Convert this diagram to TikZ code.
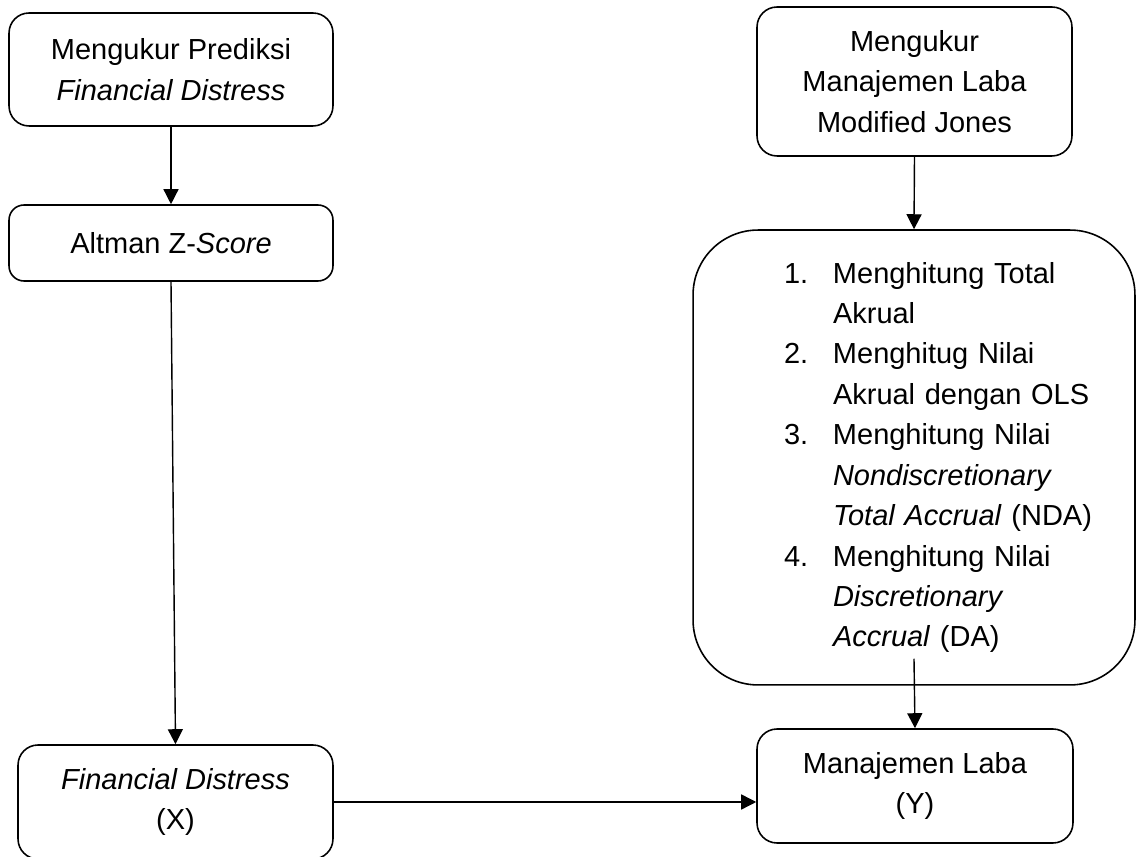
\documentclass[tikz,border=0pt]{standalone}
\usepackage{fontspec}
\setmainfont{Liberation Sans}
\usetikzlibrary{arrows.meta}

\newcommand{\stepnum}[1]{\hspace*{1.4cm}\makebox[0.98cm][l]{#1}}
\newcommand{\stepcont}{\hspace*{2.38cm}}

\begin{document}
\begin{tikzpicture}[x=0.02cm, y=-0.02cm,
  box/.style={draw, line width=0.9pt, rounded corners=0.4cm, align=center,
    font=\fontsize{16.5}{23}\selectfont},
  flow/.style={line width=0.8pt, -{Triangle[width=0.3cm,length=0.3cm]}}]
  \useasboundingbox (0,0) rectangle (1137,857);
  % left column
  \node[box, minimum width=6.48cm, minimum height=2.26cm] (predict) at (171,69.5)
    {Mengukur Prediksi\\\textit{Financial Distress}};
  \node[box, rounded corners=0.3cm, minimum width=6.48cm, minimum height=1.52cm] (altman) at (171,243)
    {Altman Z-\textit{Score}};
  \node[box, minimum width=6.3cm, minimum height=2.28cm] (distress) at (175.5,802)
    {\textit{Financial Distress}\\(X)};
  % right column
  \node[box, minimum width=6.3cm, minimum height=2.98cm] (jones) at (914.5,81.5)
    {Mengukur\\Manajemen Laba\\Modified Jones};
  \node[box, rounded corners=1.3cm, text width=8cm, align=left,
    minimum width=8.84cm, minimum height=9.1cm] (accrual) at (914,457.5)
    {\stepnum{1.}Menghitung Total\\
     \stepcont Akrual\\
     \stepnum{2.}Menghitug Nilai\\
     \stepcont Akrual dengan OLS\\
     \stepnum{3.}Menghitung Nilai\\
     \stepcont\textit{Nondiscretionary}\\
     \stepcont\textit{Total Accrual} (NDA)\\
     \stepnum{4.}Menghitung Nilai\\
     \stepcont\textit{Discretionary}\\
     \stepcont\textit{Accrual} (DA)};
  \node[box, minimum width=6.32cm, minimum height=2.28cm] (laba) at (915,786)
    {Manajemen Laba\\(Y)};
  % arrows
  \draw[flow] (predict.south) -- (altman.north);
  \draw[flow] (altman.south) -- (distress.north);
  \draw[flow] (jones.south) -- (accrual.north);
  \draw[flow] ([yshift=0.54cm]accrual.south) -- (laba.north);
  \draw[flow] (distress.east) -- (distress.east -| laba.west);
\end{tikzpicture}
\end{document}
